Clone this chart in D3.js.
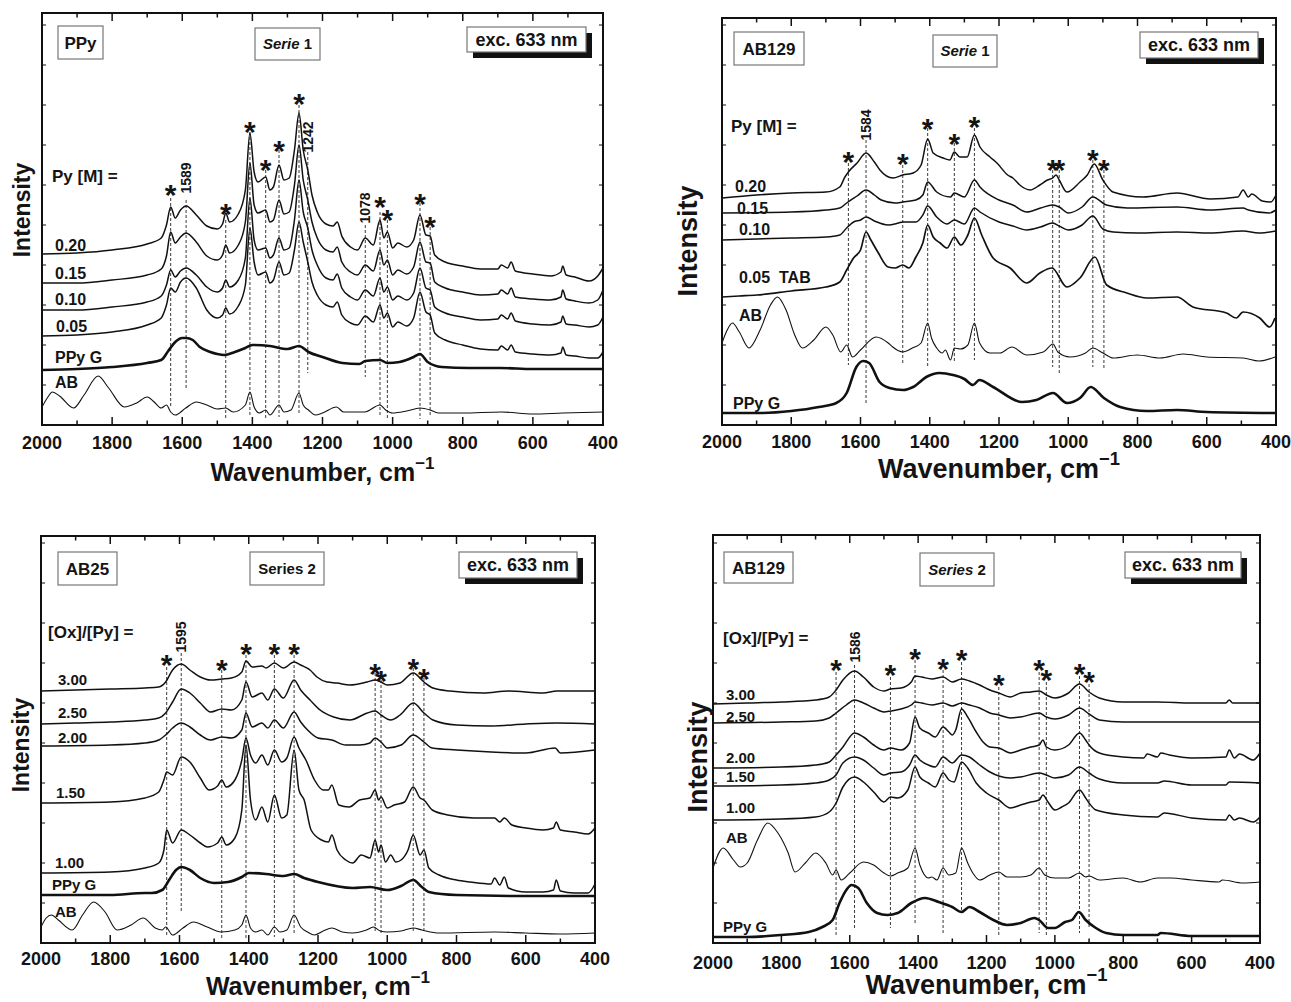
<!DOCTYPE html>
<html>
<head>
<meta charset="utf-8">
<script src="https://cdn.jsdelivr.net/npm/d3@7"></script>
<style>
  body { margin: 0; background: #fff; }
  svg { display: block; }
  text { font-family: "Liberation Sans", Arial, Helvetica, sans-serif; font-weight: bold; fill: #141414; }
</style>
</head>
<body>
<svg id="fig" width="1291" height="1002"></svg>
<script>
// ---------------------------------------------------------------
// Raman spectra (exc. 633 nm), wavenumber in cm-1, intensity in
// arbitrary, vertically offset units.
// ---------------------------------------------------------------
const majorTicks = [2000, 1800, 1600, 1400, 1200, 1000, 800, 600, 400];
const minorTicks = [1900, 1700, 1500, 1300, 1100, 900, 700, 500];

// ---- Panel A: PPy, Serie 1, Py [M] -----------------------------
const ppyS1Names = ["0.20", "0.15", "0.10", "0.05", "PPy G", "AB"];
const ppyS1_020 = [[2000,171],[1900,172],[1800,175],[1700,181],[1660,187],[1645,200],[1633,218],[1620,207],[1605,215],[1589,219],[1560,210],[1530,199],[1500,196],[1485,201],[1476,212],[1465,203],[1440,211],[1420,235],[1407,292],[1395,253],[1384,243],[1362,248],[1350,235],[1340,238],[1324,260],[1310,245],[1295,247],[1280,275],[1267,312],[1255,275],[1242,255],[1230,230],[1215,213],[1190,201],[1170,199],[1158,203],[1145,189],[1120,178],[1100,175],[1078,187],[1055,180],[1036,205],[1025,187],[1015,193],[1000,177],[985,182],[960,178],[940,185],[922,210],[905,190],[893,189],[880,170],[850,163],[800,159],[750,156],[700,156],[690,160],[672,157],[662,163],[650,154],[600,151],[550,149],[520,153],[515,159],[505,150],[480,148],[440,144],[415,149],[400,157]];
const ppyS1_015 = [[2000,142],[1900,142],[1800,145],[1700,150],[1660,156],[1645,169],[1633,193],[1620,182],[1605,188],[1589,192],[1560,183],[1530,169],[1500,165],[1485,170],[1476,180],[1465,172],[1440,180],[1420,203],[1407,262],[1395,220],[1384,212],[1362,215],[1350,203],[1340,205],[1324,225],[1310,211],[1295,213],[1280,240],[1267,280],[1255,245],[1242,225],[1230,203],[1215,187],[1190,175],[1170,173],[1158,178],[1145,163],[1120,153],[1100,150],[1078,160],[1055,154],[1036,175],[1025,160],[1015,165],[1000,150],[985,155],[960,151],[940,158],[922,183],[905,163],[893,162],[880,143],[850,137],[800,133],[750,130],[700,131],[690,135],[672,131],[662,137],[650,128],[600,126],[550,125],[520,128],[515,135],[505,126],[480,124],[440,122],[415,125],[400,135]];
const ppyS1_010 = [[2000,115],[1900,115],[1800,118],[1700,123],[1660,129],[1645,140],[1633,155],[1620,148],[1605,154],[1589,157],[1560,150],[1530,138],[1500,133],[1485,137],[1476,145],[1465,138],[1440,145],[1420,167],[1407,227],[1395,185],[1384,175],[1362,177],[1350,167],[1340,170],[1324,187],[1310,175],[1295,177],[1280,205],[1267,245],[1255,213],[1242,197],[1230,175],[1215,160],[1190,147],[1170,145],[1158,151],[1145,137],[1120,128],[1100,125],[1078,135],[1055,129],[1036,147],[1025,133],[1015,138],[1000,125],[985,129],[960,125],[940,132],[922,157],[905,137],[893,135],[880,118],[850,112],[800,108],[750,105],[700,106],[690,110],[672,106],[662,112],[650,104],[600,101],[550,100],[520,103],[515,109],[505,101],[480,100],[440,98],[415,100],[400,108]];
const ppyS1_005 = [[2000,89],[1900,90],[1800,93],[1700,100],[1660,107],[1645,120],[1633,137],[1620,133],[1605,143],[1589,147],[1560,137],[1530,115],[1500,107],[1485,110],[1476,117],[1465,111],[1440,119],[1420,140],[1407,197],[1395,163],[1384,150],[1362,153],[1350,142],[1340,145],[1324,163],[1310,150],[1295,152],[1280,175],[1267,203],[1255,183],[1242,163],[1230,143],[1215,130],[1190,120],[1170,118],[1158,123],[1145,110],[1120,102],[1100,100],[1078,109],[1055,103],[1036,120],[1025,107],[1015,112],[1000,98],[985,103],[960,99],[940,107],[922,133],[905,113],[893,110],[880,92],[850,85],[800,80],[750,76],[700,75],[690,79],[672,75],[662,80],[650,73],[600,71],[550,70],[520,72],[515,78],[505,70],[480,69],[440,67],[415,67],[400,73]];
const ppyS1_ppyG = [[2000,55],[1900,56],[1800,58],[1700,62],[1660,65],[1640,74],[1620,83],[1600,87],[1589,87],[1570,85],[1550,78],[1520,73],[1500,71],[1480,70],[1450,73],[1420,77],[1400,80],[1350,79],[1300,76],[1267,79],[1240,73],[1200,68],[1143,62],[1095,61],[1078,64],[1036,65],[1015,62],[980,63],[940,68],[922,71],[900,63],[860,58],[783,57],[693,57],[600,56],[400,56]];
const ppyS1_ab = [[2000,18],[1985,27],[1970,33],[1950,29],[1910,17],[1880,30],[1840,49],[1810,37],[1765,18],[1730,22],[1700,28],[1680,23],[1660,17],[1645,20],[1633,13],[1620,10],[1590,17],[1560,23],[1530,20],[1500,16],[1476,17],[1455,13],[1420,20],[1407,33],[1395,18],[1380,12],[1362,15],[1350,10],[1324,20],[1310,13],[1290,15],[1267,32],[1255,20],[1240,15],[1220,10],[1200,12],[1160,18],[1140,13],[1080,13],[1036,20],[1020,15],[1000,12],[960,14],[922,17],[893,15],[870,12],[800,12],[690,13],[600,11],[515,12],[400,13]];
const ppyS1Peaks = [
  {wn:1633, top:227, bottom:19, star:237},
  {wn:1589, top:225, bottom:36, label:"1589", labelAt:247},
  {wn:1476, top:205, bottom:5, star:218},
  {wn:1407, top:293, bottom:10, star:300},
  {wn:1362, top:255, bottom:6, star:262},
  {wn:1324, top:275, bottom:8, star:281},
  {wn:1267, top:320, bottom:12, star:328},
  {wn:1242, top:273, bottom:52, label:"1242", labelAt:288},
  {wn:1078, top:200, bottom:48, label:"1078", labelAt:217},
  {wn:1036, top:213, bottom:10, star:225},
  {wn:1015, top:205, bottom:7, star:212},
  {wn:922, top:222, bottom:6, star:228},
  {wn:893, top:198, bottom:8, star:205}
];

// ---- Panel B: AB129, Serie 1, Py [M] ---------------------------
const ab129S1Names = ["0.20", "0.15", "0.10", "0.05  TAB", "AB", "PPy G"];
const ab129S1_020 = [[2000,227],[1900,230],[1800,232],[1700,233],[1660,238],[1645,248],[1635,253],[1610,262],[1584,272],[1560,263],[1544,255],[1506,247],[1478,250],[1448,252],[1425,260],[1406,286],[1390,272],[1361,267],[1342,265],[1329,273],[1313,268],[1292,268],[1271,290],[1255,278],[1226,268],[1206,262],[1175,250],[1160,247],[1140,240],[1110,235],[1082,240],[1060,245],[1045,247],[1035,250],[1026,245],[1004,233],[966,243],[945,250],[925,261],[900,245],[871,233],[784,228],[686,232],[590,226],[510,228],[495,235],[480,228],[470,231],[440,224],[415,223],[400,230]];
const ab129S1_015 = [[2000,212],[1800,213],[1700,215],[1660,217],[1640,222],[1610,229],[1584,235],[1560,230],[1540,225],[1500,222],[1478,223],[1440,225],[1420,230],[1406,243],[1380,233],[1340,228],[1329,232],[1300,228],[1271,245],[1255,238],[1200,225],[1160,220],[1120,213],[1080,217],[1045,220],[1026,218],[1000,212],[960,218],[929,228],[890,220],[830,217],[686,218],[590,215],[495,217],[480,215],[420,212],[400,215]];
const ab129S1_010 = [[2000,185],[1800,187],[1700,188],[1660,190],[1640,197],[1620,203],[1600,205],[1584,208],[1560,204],[1520,200],[1490,202],[1478,203],[1440,203],[1420,210],[1406,219],[1380,208],[1350,201],[1329,205],[1300,201],[1271,217],[1255,213],[1200,203],[1160,199],[1120,195],[1080,198],[1045,202],[1026,199],[1000,195],[960,200],[929,209],[900,196],[870,193],[800,192],[686,193],[590,192],[495,194],[450,192],[400,194]];
const ab129S1_005 = [[2000,128],[1950,129],[1900,130],[1800,134],[1700,138],[1660,143],[1640,155],[1620,167],[1600,175],[1584,193],[1570,185],[1550,173],[1520,158],[1500,157],[1478,160],[1460,157],[1440,168],[1420,182],[1406,200],[1390,188],[1370,182],[1350,177],[1329,188],[1310,180],[1290,190],[1271,207],[1250,190],[1217,167],[1168,157],[1120,142],[1082,152],[1047,157],[1004,138],[966,147],[923,168],[889,140],[831,132],[773,127],[686,128],[640,118],[543,112],[515,107],[495,113],[447,107],[418,98],[403,107]];
const ab129S1_ab = [[2000,82],[1985,95],[1970,102],[1950,93],[1922,77],[1890,95],[1860,120],[1840,128],[1815,115],[1790,90],[1768,77],[1735,85],[1700,98],[1680,90],[1657,73],[1640,80],[1623,68],[1600,75],[1555,88],[1520,82],[1507,78],[1478,73],[1450,77],[1425,82],[1406,102],[1395,87],[1380,77],[1364,72],[1355,75],[1340,65],[1329,77],[1312,76],[1290,80],[1271,102],[1256,82],[1226,72],[1197,72],[1163,78],[1120,70],[1072,73],[1044,81],[1030,73],[995,68],[950,72],[929,77],[900,72],[870,67],[801,70],[735,67],[668,71],[600,68],[495,67],[450,64],[403,68]];
const ab129S1_ppyG = [[2000,12],[1894,12],[1800,14],[1720,18],[1670,22],[1640,32],[1612,58],[1592,64],[1575,62],[1545,43],[1516,37],[1477,35],[1448,38],[1410,48],[1372,52],[1333,50],[1300,46],[1275,40],[1257,45],[1217,38],[1133,23],[1092,25],[1044,32],[1004,22],[966,27],[935,38],[897,27],[850,18],[773,14],[686,15],[600,13],[400,12]];
const ab129S1Peaks = [
  {wn:1635, top:262, bottom:60, star:270},
  {wn:1584, top:285, bottom:20, label:"1584", labelAt:300},
  {wn:1478, top:260, bottom:60, star:268},
  {wn:1406, top:297, bottom:58, star:303},
  {wn:1329, top:282, bottom:62, star:288},
  {wn:1271, top:297, bottom:65, star:305},
  {wn:1045, top:255, bottom:58, star:262},
  {wn:1026, top:255, bottom:52, star:262},
  {wn:929, top:265, bottom:58, star:272},
  {wn:897, top:255, bottom:55, star:262}
];

// ---- Panel C: AB25, Series 2, [Ox]/[Py] ------------------------
const ab25S2Names = ["3.00", "2.50", "2.00", "1.50", "1.00", "PPy G", "AB"];
const ab25S2_300 = [[2000,252],[1900,253],[1800,254],[1700,255],[1660,256],[1640,261],[1620,273],[1595,279],[1570,273],[1540,266],[1510,263],[1478,264],[1450,265],[1420,271],[1408,282],[1390,276],[1362,277],[1350,275],[1326,280],[1300,275],[1269,281],[1250,278],[1223,273],[1203,266],[1174,261],[1145,260],[1108,258],[1058,261],[1035,263],[1018,261],[1000,258],[963,260],[925,270],[894,261],[868,255],[819,252],[723,250],[650,252],[550,250],[510,252],[400,252]];
const ab25S2_250 = [[2000,219],[1900,220],[1800,221],[1700,223],[1660,225],[1640,230],[1620,241],[1595,254],[1570,250],[1540,240],[1510,231],[1478,234],[1450,233],[1420,243],[1408,261],[1390,246],[1362,250],[1345,243],[1326,254],[1300,245],[1269,263],[1250,253],[1223,243],[1194,233],[1155,226],[1108,223],[1058,230],[1035,232],[1018,228],[990,223],[963,228],[925,240],[894,230],[868,223],[800,218],[700,217],[600,219],[510,220],[400,219]];
const ab25S2_200 = [[2000,197],[1800,198],[1700,200],[1660,203],[1640,208],[1620,215],[1595,220],[1570,216],[1540,208],[1510,203],[1478,206],[1450,205],[1420,213],[1408,230],[1390,216],[1362,220],[1345,215],[1326,223],[1300,215],[1269,231],[1250,221],[1230,213],[1200,205],[1160,203],[1120,198],[1080,198],[1050,200],[1035,205],[1018,201],[1000,195],[960,198],[925,208],[894,201],[870,195],[800,193],[700,191],[600,190],[515,195],[500,190],[400,193]];
const ab25S2_150 = [[2000,140],[1800,141],[1700,145],[1660,151],[1645,163],[1637,171],[1620,168],[1595,186],[1570,181],[1540,165],[1515,153],[1490,157],[1478,163],[1465,156],[1440,163],[1420,183],[1408,205],[1395,188],[1380,180],[1362,188],[1345,178],[1326,193],[1305,181],[1290,185],[1269,206],[1255,195],[1235,183],[1210,163],[1185,153],[1170,153],[1160,158],[1140,138],[1110,136],[1080,143],[1050,145],[1035,153],[1025,143],[1018,146],[1000,135],[980,138],[950,141],[925,156],[905,145],[894,143],[870,133],[825,128],[750,125],[690,125],[675,121],[662,125],[640,118],[600,115],[550,113],[520,115],[512,121],[500,113],[460,111],[420,109],[400,115]];
const ab25S2_100 = [[2000,70],[1800,71],[1700,75],[1660,80],[1645,93],[1637,113],[1620,100],[1595,113],[1570,108],[1540,100],[1520,96],[1490,100],[1478,106],[1465,98],[1440,105],[1420,133],[1408,198],[1395,143],[1380,123],[1362,136],[1345,121],[1326,148],[1305,125],[1290,128],[1269,193],[1255,153],[1240,143],[1220,113],[1190,103],[1170,101],[1160,108],[1145,93],[1120,83],[1100,80],[1075,88],[1050,85],[1035,103],[1025,91],[1018,98],[1005,81],[990,88],[975,81],[960,83],[940,93],[925,108],[905,88],[894,93],[880,75],[850,68],[800,63],[760,61],[700,59],[690,65],[675,58],[662,66],[650,55],[600,51],[550,51],[520,53],[512,63],[500,52],[460,50],[420,50],[400,59]];
const ab25S2_ppyG = [[2000,48],[1800,48],[1700,50],[1680,50],[1650,53],[1630,63],[1610,73],[1595,76],[1570,73],[1540,65],[1500,60],[1460,61],[1420,66],[1400,70],[1350,69],[1300,67],[1269,69],[1240,65],[1200,61],[1100,55],[1050,56],[1000,53],[960,57],[925,63],[900,56],[880,51],[800,48],[600,47],[400,47]];
const ab25S2_ab = [[2000,16],[1985,25],[1970,28],[1950,23],[1910,13],[1880,28],[1848,41],[1815,31],[1780,13],[1740,18],[1705,25],[1670,15],[1650,13],[1640,16],[1620,8],[1590,15],[1560,21],[1520,16],[1480,11],[1440,13],[1420,18],[1408,28],[1395,15],[1380,11],[1362,13],[1345,8],[1326,16],[1310,11],[1290,13],[1269,28],[1250,16],[1230,11],[1210,8],[1185,12],[1160,15],[1130,11],[1100,10],[1060,13],[1040,16],[1020,12],[1000,11],[960,12],[925,15],[900,13],[850,10],[690,11],[600,10],[500,9],[400,10]];
const ab25S2Peaks = [
  {wn:1637, top:276, bottom:8, star:285},
  {wn:1595, top:290, bottom:30, label:"1595", labelAt:306},
  {wn:1478, top:273, bottom:3, star:280},
  {wn:1408, top:288, bottom:3, star:296},
  {wn:1326, top:288, bottom:6, star:296},
  {wn:1269, top:288, bottom:10, star:296},
  {wn:1035, top:270, bottom:10, star:276},
  {wn:1018, top:263, bottom:8, star:269},
  {wn:925, top:275, bottom:11, star:281},
  {wn:894, top:265, bottom:13, star:271}
];

// ---- Panel D: AB129, Series 2, [Ox]/[Py] -----------------------
const ab129S2Names = ["3.00", "2.50", "2.00", "1.50", "1.00", "AB", "PPy G"];
const ab129S2_300 = [[2000,239],[1900,240],[1800,241],[1700,243],[1660,246],[1640,253],[1620,263],[1586,272],[1560,266],[1530,256],[1500,252],[1481,254],[1450,255],[1420,261],[1409,267],[1390,266],[1360,264],[1327,266],[1300,261],[1273,264],[1250,262],[1220,258],[1190,253],[1164,250],[1130,246],[1100,250],[1070,251],[1046,252],[1025,248],[1000,245],[960,250],[928,259],[900,251],[870,245],[800,241],[700,241],[600,240],[500,240],[490,243],[480,240],[400,240]];
const ab129S2_250 = [[2000,220],[1800,221],[1700,222],[1660,225],[1640,230],[1610,238],[1586,243],[1560,240],[1530,235],[1500,231],[1480,232],[1450,234],[1420,238],[1409,241],[1390,240],[1360,238],[1327,240],[1300,237],[1273,240],[1250,238],[1220,235],[1190,230],[1164,228],[1130,225],[1100,226],[1046,230],[1025,226],[1000,224],[960,228],[928,235],[900,229],[870,223],[800,221],[700,221],[600,221],[500,221],[400,221]];
const ab129S2_200 = [[2000,175],[1800,176],[1700,178],[1660,181],[1640,188],[1620,196],[1586,210],[1560,206],[1530,198],[1500,193],[1481,195],[1450,193],[1425,200],[1409,226],[1395,215],[1370,210],[1350,206],[1327,216],[1310,211],[1300,208],[1290,213],[1273,234],[1255,226],[1230,211],[1210,201],[1190,196],[1164,195],[1130,190],[1100,193],[1070,196],[1046,198],[1035,203],[1025,196],[1000,193],[960,198],[928,210],[910,203],[900,198],[870,190],[800,186],[740,185],[730,189],[700,186],[690,190],[665,188],[600,185],[500,186],[490,193],[475,185],[460,189],[420,183],[400,190]];
const ab129S2_150 = [[2000,157],[1800,158],[1700,160],[1660,163],[1640,168],[1620,180],[1586,186],[1560,183],[1530,175],[1500,168],[1481,170],[1450,171],[1425,178],[1409,188],[1395,183],[1370,178],[1350,176],[1327,186],[1300,180],[1273,188],[1250,186],[1220,178],[1190,171],[1164,167],[1130,165],[1100,166],[1046,170],[1025,168],[1000,165],[960,168],[928,176],[900,170],[870,164],[800,160],[700,160],[680,162],[600,158],[500,158],[490,161],[400,160]];
const ab129S2_100 = [[2000,123],[1800,124],[1700,126],[1660,131],[1640,140],[1620,156],[1586,166],[1560,161],[1530,151],[1500,141],[1481,146],[1460,145],[1430,153],[1409,176],[1395,166],[1370,160],[1350,156],[1327,170],[1310,163],[1295,161],[1273,181],[1255,175],[1230,160],[1200,150],[1164,143],[1130,135],[1100,138],[1070,141],[1046,143],[1035,148],[1020,141],[1000,133],[980,136],[960,140],[928,153],[910,145],[900,140],[880,133],[800,128],[700,126],[680,130],[600,125],[500,123],[490,128],[475,123],[460,125],[420,121],[400,126]];
const ab129S2_ab = [[2000,75],[1970,95],[1940,83],[1920,76],[1900,80],[1870,103],[1840,120],[1810,110],[1780,90],[1760,71],[1730,80],[1700,90],[1670,80],[1650,68],[1640,73],[1625,63],[1600,70],[1560,81],[1530,78],[1500,70],[1481,67],[1460,70],[1430,75],[1409,95],[1395,78],[1370,65],[1360,66],[1345,63],[1327,75],[1310,68],[1290,70],[1273,95],[1255,80],[1240,70],[1220,63],[1190,68],[1164,71],[1140,66],[1100,66],[1070,68],[1046,75],[1030,68],[1000,65],[960,65],[928,70],[910,66],[900,67],[870,63],[800,65],[750,61],[700,65],[660,65],[600,63],[520,61],[510,63],[450,60],[400,61]];
const ab129S2_ppyG = [[2000,6],[1900,6],[1800,8],[1720,11],[1680,16],[1650,23],[1630,40],[1610,53],[1595,58],[1575,55],[1550,40],[1520,30],[1490,28],[1460,30],[1420,40],[1380,45],[1340,41],[1300,36],[1273,31],[1250,36],[1220,31],[1180,23],[1140,18],[1100,20],[1060,25],[1046,23],[1020,15],[1000,15],[970,21],[950,23],[930,31],[910,23],[880,15],[850,10],[800,8],[700,8],[690,10],[600,7],[400,7]];
const ab129S2Peaks = [
  {wn:1640, top:271, bottom:8, star:280},
  {wn:1586, top:278, bottom:15, label:"1586", labelAt:296},
  {wn:1481, top:266, bottom:15, star:275},
  {wn:1409, top:283, bottom:18, star:291},
  {wn:1327, top:273, bottom:10, star:281},
  {wn:1273, top:281, bottom:30, star:290},
  {wn:1164, top:256, bottom:8, star:265},
  {wn:1046, top:271, bottom:10, star:280},
  {wn:1025, top:261, bottom:8, star:270},
  {wn:928, top:267, bottom:10, star:276},
  {wn:900, top:259, bottom:15, star:268}
];

// ---------------------------------------------------------------
// Layout of the four panels
// ---------------------------------------------------------------
const panels = [
  {
    frame: {l: 42, r: 603, t: 13, b: 425},
    series: [ppyS1_020, ppyS1_015, ppyS1_010, ppyS1_005, ppyS1_ppyG, ppyS1_ab],
    names: ppyS1Names,
    weights: [1.5, 1.5, 1.5, 1.5, 2.6, 1.1],
    peaks: ppyS1Peaks,
    labelPos: [[55,245],[55,273],[55,299],[56,326],[55,357],[55,382]],
    labelSize: 16,
    heading: {text: "Py [M] =", x: 52, y: 176, size: 17},
    sample: {text: "PPy", box: [58, 26, 103, 59], size: 17},
    series2: {parts: [["Serie", true], [" 1", false]], box: [255, 28, 320, 60], size: 15},
    exc: {box: [467, 27, 586, 52], size: 18},
    tickSize: 18, tickBase: 449,
    xTitle: {size: 25, y: 481},
    yTitle: {size: 23, x: 29.5, y: 210},
    peakLabelSize: 14, starSize: 30
  },
  {
    frame: {l: 722, r: 1276, t: 18, b: 425},
    series: [ab129S1_020, ab129S1_015, ab129S1_010, ab129S1_005, ab129S1_ab, ab129S1_ppyG],
    names: ab129S1Names,
    weights: [1.5, 1.5, 1.5, 1.7, 1.1, 2.6],
    peaks: ab129S1Peaks,
    labelPos: [[735,186],[737,208],[739,229],[739,277],[739,315],[733,403]],
    labelSize: 16,
    heading: {text: "Py [M] =", x: 731, y: 126, size: 17},
    sample: {text: "AB129", box: [734, 32, 804, 65], size: 17},
    series2: {parts: [["Serie", true], [" 1", false]], box: [933, 35, 997, 67], size: 15},
    exc: {box: [1140, 32, 1258, 58], size: 18},
    tickSize: 18, tickBase: 448,
    xTitle: {size: 27, y: 478},
    yTitle: {size: 27, x: 697, y: 241},
    peakLabelSize: 14, starSize: 30
  },
  {
    frame: {l: 41, r: 595, t: 536, b: 943},
    series: [ab25S2_300, ab25S2_250, ab25S2_200, ab25S2_150, ab25S2_100, ab25S2_ppyG, ab25S2_ab],
    names: ab25S2Names,
    weights: [1.5, 1.5, 1.5, 1.5, 1.5, 2.6, 1.1],
    peaks: ab25S2Peaks,
    labelPos: [[58,680],[58,713],[58,738],[56,793],[55,863],[52,885],[55,912]],
    labelSize: 15,
    heading: {text: "[Ox]/[Py] =", x: 48, y: 632, size: 17},
    sample: {text: "AB25", box: [58, 552, 117, 585], size: 17},
    series2: {parts: [["Series 2", false]], box: [250, 552, 324, 585], size: 15},
    exc: {box: [459, 552, 577, 578], size: 18},
    tickSize: 18, tickBase: 965,
    xTitle: {size: 25, y: 995},
    yTitle: {size: 23, x: 29, y: 745},
    peakLabelSize: 14, starSize: 30
  },
  {
    frame: {l: 713, r: 1260, t: 535, b: 943},
    series: [ab129S2_300, ab129S2_250, ab129S2_200, ab129S2_150, ab129S2_100, ab129S2_ab, ab129S2_ppyG],
    names: ab129S2Names,
    weights: [1.5, 1.5, 1.5, 1.5, 1.5, 1.1, 2.6],
    peaks: ab129S2Peaks,
    labelPos: [[726,695],[726,717],[726,758],[726,777],[726,808],[726,838],[723,927]],
    labelSize: 15,
    heading: {text: "[Ox]/[Py] =", x: 723, y: 638, size: 17},
    sample: {text: "AB129", box: [724, 552, 793, 583], size: 17},
    series2: {parts: [["Series", true], [" 2", false]], box: [920, 553, 994, 586], size: 15},
    exc: {box: [1125, 552, 1241, 578], size: 18},
    tickSize: 18, tickBase: 969,
    xTitle: {size: 27, y: 994},
    yTitle: {size: 27, x: 707, y: 757},
    peakLabelSize: 14, starSize: 30
  }
];

const svg = d3.select("#fig");

function drawPanel(p) {
  const f = p.frame;
  const g = svg.append("g");
  const x = d3.scaleLinear().domain([2000, 400]).range([f.l, f.r]);
  const y = d3.scaleLinear().domain([0, f.b - f.t]).range([f.b, f.t]);

  // dashed peak markers
  g.append("g").selectAll("line").data(p.peaks).join("line")
    .attr("x1", d => x(d.wn)).attr("x2", d => x(d.wn))
    .attr("y1", d => y(d.top)).attr("y2", d => y(d.bottom))
    .attr("stroke", "#222").attr("stroke-width", 0.9)
    .attr("stroke-dasharray", "3,2");

  // spectra
  const line = d3.line().x(d => x(d[0])).y(d => y(d[1])).curve(d3.curveMonotoneX);
  g.append("g").selectAll("path").data(p.series).join("path")
    .attr("d", line)
    .attr("fill", "none")
    .attr("stroke", "#111")
    .attr("stroke-linejoin", "round")
    .attr("stroke-width", (d, i) => p.weights[i]);

  // asterisks on assigned bands
  g.append("g").selectAll("text").data(p.peaks.filter(d => d.star !== undefined)).join("text")
    .attr("x", d => x(d.wn)).attr("y", d => y(d.star) + 0.58 * p.starSize)
    .attr("text-anchor", "middle").attr("font-size", p.starSize)
    .text("*");

  // band positions written along the dashed line
  g.append("g").selectAll("text").data(p.peaks.filter(d => d.label)).join("text")
    .attr("transform", d => `translate(${x(d.wn) + p.peakLabelSize * 0.36},${y(d.labelAt)}) rotate(-90)`)
    .attr("text-anchor", "middle").attr("font-size", p.peakLabelSize)
    .text(d => d.label);

  // frame
  g.append("rect").attr("x", f.l).attr("y", f.t)
    .attr("width", f.r - f.l).attr("height", f.b - f.t)
    .attr("fill", "none").attr("stroke", "#111").attr("stroke-width", 2);

  // x ticks, inward on bottom and top
  const tk = g.append("g").attr("stroke", "#111").attr("stroke-width", 1.5);
  majorTicks.forEach(v => {
    tk.append("line").attr("x1", x(v)).attr("x2", x(v)).attr("y1", f.b).attr("y2", f.b - 8);
    tk.append("line").attr("x1", x(v)).attr("x2", x(v)).attr("y1", f.t).attr("y2", f.t + 8);
  });
  minorTicks.forEach(v => {
    tk.append("line").attr("x1", x(v)).attr("x2", x(v)).attr("y1", f.b).attr("y2", f.b - 4.5);
    tk.append("line").attr("x1", x(v)).attr("x2", x(v)).attr("y1", f.t).attr("y2", f.t + 4.5);
  });
  // unlabelled intensity ticks on both sides
  d3.range(40, f.b - f.t, 40).forEach(v => {
    tk.append("line").attr("x1", f.l).attr("x2", f.l + 4).attr("y1", y(v)).attr("y2", y(v)).attr("stroke-width", 1);
    tk.append("line").attr("x1", f.r).attr("x2", f.r - 4).attr("y1", y(v)).attr("y2", y(v)).attr("stroke-width", 1);
  });

  g.append("g").selectAll("text").data(majorTicks).join("text")
    .attr("x", d => x(d)).attr("y", p.tickBase)
    .attr("text-anchor", "middle").attr("font-size", p.tickSize)
    .text(d => d);

  // axis titles
  const xt = g.append("text").attr("x", (f.l + f.r) / 2).attr("y", p.xTitle.y)
    .attr("text-anchor", "middle").attr("font-size", p.xTitle.size);
  xt.append("tspan").text("Wavenumber, cm");
  xt.append("tspan").attr("dy", -p.xTitle.size * 0.48).attr("font-size", p.xTitle.size * 0.68).text("\u22121");

  g.append("text")
    .attr("transform", `translate(${p.yTitle.x},${p.yTitle.y}) rotate(-90)`)
    .attr("text-anchor", "middle").attr("font-size", p.yTitle.size)
    .text("Intensity");

  // series labels
  g.append("g").selectAll("text").data(p.names).join("text")
    .attr("x", (d, i) => p.labelPos[i][0])
    .attr("y", (d, i) => p.labelPos[i][1] + p.labelSize * 0.36)
    .attr("font-size", p.labelSize)
    .attr("xml:space", "preserve")
    .text(d => d);

  g.append("text").attr("x", p.heading.x).attr("y", p.heading.y + p.heading.size * 0.36)
    .attr("font-size", p.heading.size).text(p.heading.text);

  // boxed captions
  function box(b, stroke) {
    g.append("rect").attr("x", b[0]).attr("y", b[1])
      .attr("width", b[2] - b[0]).attr("height", b[3] - b[1])
      .attr("fill", "#fff").attr("stroke", stroke).attr("stroke-width", 1.2);
  }
  box(p.sample.box, "#777");
  g.append("text").attr("x", (p.sample.box[0] + p.sample.box[2]) / 2)
    .attr("y", (p.sample.box[1] + p.sample.box[3]) / 2 + p.sample.size * 0.36)
    .attr("text-anchor", "middle").attr("font-size", p.sample.size).text(p.sample.text);

  box(p.series2.box, "#777");
  const st = g.append("text").attr("x", (p.series2.box[0] + p.series2.box[2]) / 2)
    .attr("y", (p.series2.box[1] + p.series2.box[3]) / 2 + p.series2.size * 0.36)
    .attr("text-anchor", "middle").attr("font-size", p.series2.size)
    .attr("xml:space", "preserve");
  p.series2.parts.forEach(([t, it]) => {
    st.append("tspan").attr("font-style", it ? "italic" : "normal").text(t);
  });

  const e = p.exc.box;
  g.append("rect").attr("x", e[0] + 6).attr("y", e[1] + 6)
    .attr("width", e[2] - e[0]).attr("height", e[3] - e[1]).attr("fill", "#111");
  box(e, "#777");
  g.append("text").attr("x", (e[0] + e[2]) / 2).attr("y", (e[1] + e[3]) / 2 + p.exc.size * 0.36)
    .attr("text-anchor", "middle").attr("font-size", p.exc.size).text("exc. 633 nm");
}

panels.forEach(drawPanel);
</script>
</body>
</html>
